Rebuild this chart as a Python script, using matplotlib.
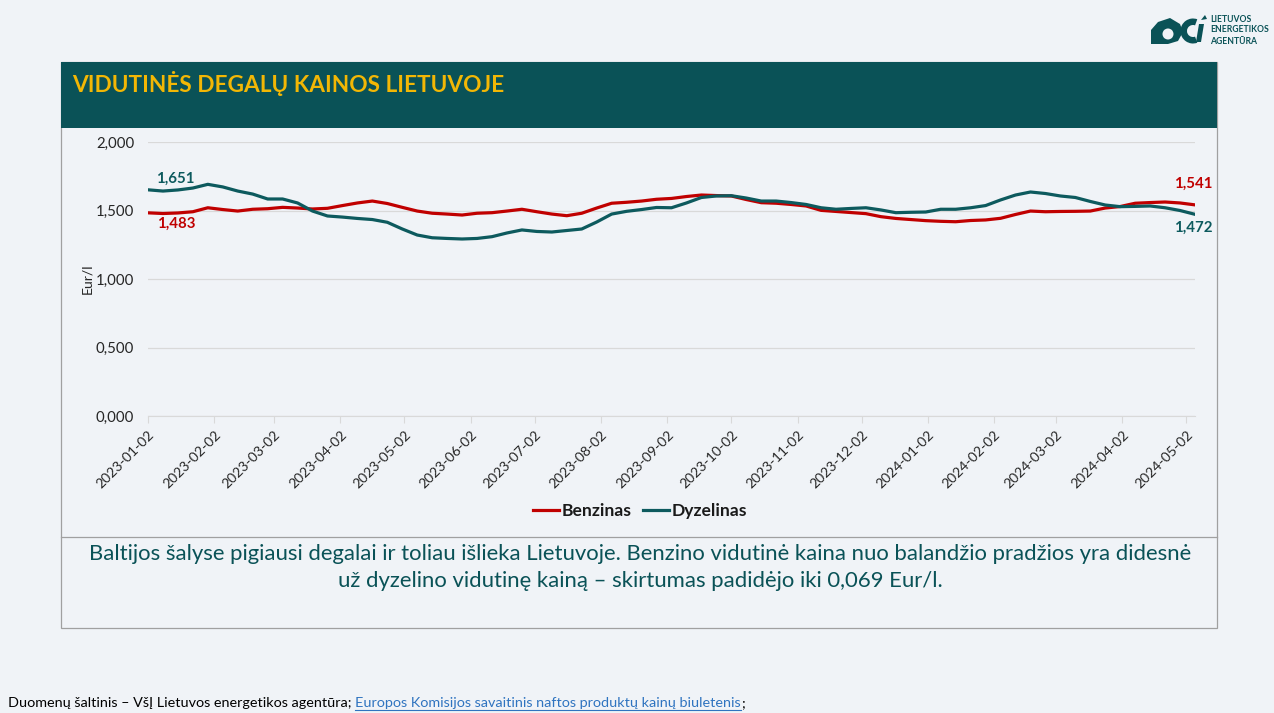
import matplotlib
matplotlib.use("Agg")
import matplotlib.pyplot as plt
from matplotlib.patches import Rectangle, Wedge, Circle, Polygon
import pandas as pd

# ---------------- data ----------------
start_date = "2023-01-02"
n_weeks = 71
benzinas = [1.483, 1.478, 1.482, 1.491, 1.520, 1.507, 1.496, 1.509, 1.513, 1.523,
            1.518, 1.511, 1.516, 1.536, 1.555, 1.569, 1.551, 1.523, 1.496, 1.480,
            1.474, 1.467, 1.480, 1.484, 1.496, 1.509, 1.491, 1.474, 1.462, 1.480,
            1.518, 1.553, 1.560, 1.569, 1.582, 1.588, 1.602, 1.613, 1.609, 1.606,
            1.580, 1.557, 1.553, 1.544, 1.533, 1.501, 1.493, 1.485, 1.477, 1.455,
            1.442, 1.434, 1.426, 1.421, 1.418, 1.427, 1.431, 1.443, 1.471, 1.496,
            1.491, 1.493, 1.494, 1.496, 1.518, 1.529, 1.553, 1.558, 1.562, 1.555,
            1.541]
dyzelinas = [1.651, 1.642, 1.650, 1.664, 1.691, 1.672, 1.642, 1.620, 1.584, 1.584,
             1.555, 1.496, 1.460, 1.452, 1.442, 1.434, 1.414, 1.365, 1.321, 1.301,
             1.296, 1.292, 1.296, 1.309, 1.336, 1.358, 1.347, 1.343, 1.354, 1.365,
             1.416, 1.474, 1.494, 1.507, 1.522, 1.520, 1.555, 1.595, 1.606, 1.608,
             1.591, 1.569, 1.569, 1.558, 1.544, 1.520, 1.509, 1.515, 1.520, 1.504,
             1.484, 1.487, 1.489, 1.509, 1.509, 1.520, 1.536, 1.577, 1.613, 1.635,
             1.624, 1.606, 1.595, 1.566, 1.540, 1.528, 1.530, 1.533, 1.520, 1.500,
             1.472]
tick_dates = ["2023-01-02", "2023-02-02", "2023-03-02", "2023-04-02", "2023-05-02",
              "2023-06-02", "2023-07-02", "2023-08-02", "2023-09-02", "2023-10-02",
              "2023-11-02", "2023-12-02", "2024-01-02", "2024-02-02", "2024-03-02",
              "2024-04-02", "2024-05-02"]
y_ticks = [0.0, 0.5, 1.0, 1.5, 2.0]
y_tick_labels = ["0,000", "0,500", "1,000", "1,500", "2,000"]
series_names = ["Benzinas", "Dyzelinas"]

title = "VIDUTINĖS DEGALŲ KAINOS LIETUVOJE"
comment_lines = ["Baltijos šalyse pigiausi degalai ir toliau išlieka Lietuvoje. Benzino vidutinė kaina nuo balandžio pradžios yra didesnė",
                 "už dyzelino vidutinę kainą – skirtumas padidėjo iki 0,069 Eur/l."]
source_plain = "Duomenų šaltinis – VšĮ Lietuvos energetikos agentūra; "
source_link = "Europos Komisijos savaitinis naftos produktų kainų biuletenis"
logo_lines = ["LIETUVOS", "ENERGETIKOS", "AGENTŪRA"]

# ---------------- style ----------------
W, H, DPI = 1274, 713, 100
BG = "#f0f3f7"
TEAL = "#0a5257"
RED = "#c00000"
LINE_TEAL = "#0d5a5e"
GOLD = "#f2b705"
FONT = ["Lato", "DejaVu Sans"]
plt.rcParams["font.family"] = FONT

def pt(p):
    return p * 72 / DPI

fig = plt.figure(figsize=(W / DPI, H / DPI), dpi=DPI, facecolor=BG)

# panel frame
frame = fig.add_axes([0, 0, 1, 1], zorder=0)
frame.set_xlim(0, W); frame.set_ylim(H, 0); frame.axis("off")
frame.add_patch(Rectangle((61, 62), 1156, 566, facecolor="none", edgecolor="#a0a0a0", lw=0.9))
frame.add_patch(Rectangle((61, 62), 1156, 66, facecolor=TEAL, edgecolor="none"))
frame.plot([61, 1217], [537, 537], color="#a0a0a0", lw=0.9)
frame.text(72, 83, title, color=GOLD, fontsize=pt(22.6), fontweight="bold", va="center", ha="left")

# logo (simplified mark)
frame.add_patch(Polygon([(1151, 44), (1151, 30), (1158, 22), (1170, 18), (1180, 24), (1183, 32),
                         (1178, 41), (1168, 44)], closed=True, facecolor=TEAL, edgecolor="none"))
frame.add_patch(Circle((1168, 34), 5.5, facecolor=BG, edgecolor="none"))
frame.add_patch(Rectangle((1151, 36), 12, 8, facecolor=TEAL, edgecolor="none"))
frame.add_patch(Wedge((1193, 31), 12.5, 70, 290, width=6.5, facecolor=TEAL, edgecolor="none"))
frame.add_patch(Polygon([(1196, 42), (1199, 24), (1204, 24), (1201, 42)], closed=True,
                        facecolor=TEAL, edgecolor="none"))
frame.add_patch(Polygon([(1201, 20), (1205, 15), (1207, 19)], closed=True, facecolor=TEAL, edgecolor="none"))
for i, t in enumerate(logo_lines):
    frame.text(1210, 19 + i * 11, t, color=TEAL, fontsize=pt(8.7), fontweight="bold", va="center", ha="left")

# comment
for i, line in enumerate(comment_lines):
    frame.text(640, 554 + i * 27, line, color=TEAL, fontsize=pt(22.2), va="center", ha="center")

# source
fs_src = pt(14.4)
t1 = frame.text(8, 703, source_plain, color="#000000", fontsize=fs_src, va="center", ha="left")
fig.canvas.draw()
r = fig.canvas.get_renderer()
bb = t1.get_window_extent(r)
t2 = fig.text(bb.x1 / W, 1 - 703 / H, source_link, color="#2f74c0", fontsize=fs_src, va="center", ha="left")
bb2 = t2.get_window_extent(r)
fig.text(bb2.x1 / W, 1 - 703 / H, ";", color="#000000", fontsize=fs_src, va="center", ha="left")
frame.plot([bb2.x0, bb2.x1], [H - bb2.y0 + 0.5, H - bb2.y0 + 0.5], color="#2f74c0", lw=0.8)

# ---------------- chart ----------------
dates = pd.date_range(start_date, periods=n_weeks, freq="7D")
L, R, T, B = 148, 1195, 142, 416
ax = fig.add_axes([L / W, 1 - B / H, (R - L) / W, (B - T) / H], zorder=2)
ax.set_facecolor("none")
ax.plot(dates, benzinas, color=RED, lw=2.3, label=series_names[0], solid_joinstyle="round")
ax.plot(dates, dyzelinas, color=LINE_TEAL, lw=2.3, label=series_names[1], solid_joinstyle="round")
ax.set_xlim(dates[0], dates[-1])
ax.set_ylim(0, 2.0)
ax.set_yticks(y_ticks)
ax.set_yticklabels(y_tick_labels)
tds = pd.to_datetime(tick_dates)
ax.set_xticks(tds)
ax.set_xticklabels(tick_dates, rotation=45, ha="right", va="top", rotation_mode="anchor")
ax.grid(axis="y", color="#d9d9d9", lw=0.9)
ax.set_axisbelow(True)
for s in ["top", "right", "left"]:
    ax.spines[s].set_visible(False)
ax.spines["bottom"].set_color("#d9d9d9")
ax.tick_params(axis="y", length=0, pad=10, labelsize=pt(15), labelcolor="#262626")
ax.tick_params(axis="x", length=5, color="#d9d9d9", pad=4, labelsize=pt(14), labelcolor="#262626")
ax.set_ylabel("Eur/l", fontsize=pt(14), color="#262626", labelpad=2)

def fmt(v):
    return f"{v:.3f}".replace(".", ",")

ax.annotate(fmt(dyzelinas[0]), (dates[0], dyzelinas[0]), xytext=(8, 4), textcoords="offset pixels",
            color=LINE_TEAL, fontsize=pt(15), fontweight="bold", ha="left", va="bottom")
ax.annotate(fmt(benzinas[0]), (dates[0], benzinas[0]), xytext=(9, -4), textcoords="offset pixels",
            color=RED, fontsize=pt(15), fontweight="bold", ha="left", va="top")
ax.annotate(fmt(benzinas[-1]), (dates[-1], benzinas[-1]), xytext=(18, 14), textcoords="offset pixels",
            color=RED, fontsize=pt(15), fontweight="bold", ha="right", va="bottom", annotation_clip=False)
ax.annotate(fmt(dyzelinas[-1]), (dates[-1], dyzelinas[-1]), xytext=(18, -6), textcoords="offset pixels",
            color=LINE_TEAL, fontsize=pt(15), fontweight="bold", ha="right", va="top", annotation_clip=False)

leg = ax.legend(loc="center", bbox_to_anchor=(640 / W, 1 - 511 / H), bbox_transform=fig.transFigure,
                ncol=2, frameon=False, prop={"size": pt(17.5), "weight": "bold"},
                handlelength=1.5, handletextpad=0.15, columnspacing=0.6)
for txt in leg.get_texts():
    txt.set_color("#1a1a1a")

fig.savefig("out.png", dpi=DPI, facecolor=BG)
